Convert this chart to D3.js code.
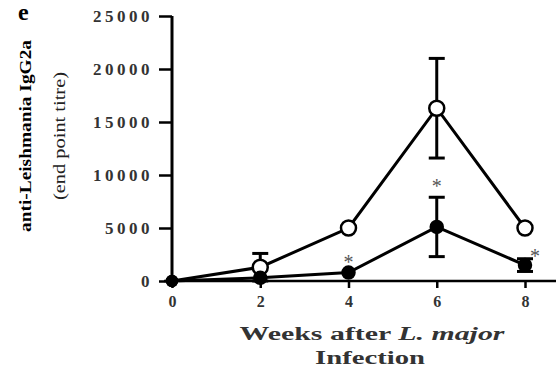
<!DOCTYPE html>
<html>
<head>
<meta charset="utf-8">
<script src="https://cdn.jsdelivr.net/npm/d3@7"></script>
<style>
body { margin: 0; background: #fff; }
svg { display: block; font-family: "Liberation Serif", "DejaVu Serif", serif; }
</style>
</head>
<body>
<div id="container"><svg></svg></div>
<script>
// weeks after infection
const WEEKS = [0, 2, 4, 6, 8];
// open circles (control)
const OPEN_MEAN = [0, 1300, 5000, 16300, 5000];
const OPEN_ERR  = [0, 1300, 0, 4700, 0];
// filled circles
const FILLED_MEAN = [0, 300, 800, 5100, 1500];
const FILLED_ERR  = [0, 0, 0, 2800, 600];
// significance marks (filled series)
const STARS = [4, 6, 8];
const Y_TICKS = [0, 5000, 10000, 15000, 20000, 25000];

const width = 556, height = 370;
let svg = d3.select("svg").attr("width", width).attr("height", height);

let x = d3.scaleLinear().domain([0, 8]).range([172, 525]);
let y = d3.scaleLinear().domain([0, 25000]).range([281, 16]);

// axes
let yAxis = svg.append("g")
	.attr("transform", "translate(172,0)")
	.call(d3.axisLeft(y).tickValues(Y_TICKS).tickSize(13).tickPadding(6).tickFormat(d3.format("d")));
yAxis.select(".domain").attr("stroke-width", 3).attr("d", `M0,${y(25000)}V${y(0)}`);
yAxis.selectAll(".tick line").attr("stroke-width", 2.5);
yAxis.selectAll("text").attr("font-size", 17).attr("font-weight", "bold")
	.attr("font-family", "Liberation Serif").attr("fill", "#333").attr("letter-spacing", 3.5);

let xAxis = svg.append("g")
	.attr("transform", "translate(0,281)")
	.call(d3.axisBottom(x).tickValues(WEEKS).tickSize(7).tickPadding(8).tickFormat(d3.format("d")));
xAxis.select(".domain").attr("stroke-width", 2.5).attr("d", `M164,0H556`);
xAxis.selectAll(".tick line").attr("stroke-width", 2.5);
xAxis.selectAll("text").attr("font-size", 16).attr("font-weight", "bold")
	.attr("font-family", "Liberation Serif").attr("fill", "#333");

let line = d3.line().x((d, i) => x(WEEKS[i])).y(d => y(d));

function drawSeries(mean, err, filled) {
	let g = svg.append("g");
	g.append("path").datum(mean).attr("d", line)
		.attr("fill", "none").attr("stroke", "#000").attr("stroke-width", 3);
	mean.forEach((m, i) => {
		if (!err[i]) return;
		let cx = x(WEEKS[i]);
		g.append("line").attr("x1", cx).attr("x2", cx)
			.attr("y1", y(m - err[i])).attr("y2", y(m + err[i]))
			.attr("stroke", "#000").attr("stroke-width", 3);
		[m - err[i], m + err[i]].forEach(v => {
			g.append("line").attr("x1", cx - 8).attr("x2", cx + 8)
				.attr("y1", y(v)).attr("y2", y(v))
				.attr("stroke", "#000").attr("stroke-width", 3);
		});
	});
	g.selectAll("circle").data(mean).enter().append("circle")
		.attr("cx", (d, i) => x(WEEKS[i])).attr("cy", d => y(d))
		.attr("r", (d, i) => i === 0 ? 5 : (filled ? 6 : 7.5))
		.attr("fill", filled ? "#000" : "#fff")
		.attr("stroke", "#000").attr("stroke-width", 2.5);
}

drawSeries(OPEN_MEAN, OPEN_ERR, false);
drawSeries(FILLED_MEAN, FILLED_ERR, true);

// asterisks
STARS.forEach(w => {
	let i = WEEKS.indexOf(w);
	let top = FILLED_MEAN[i] + FILLED_ERR[i];
	let sx = x(w) + (w === 8 ? 10 : 0);
	let sy = y(top) - (w === 8 ? 6 : 14);
	svg.append("text").attr("x", sx).attr("y", sy + 10)
		.attr("text-anchor", "middle").attr("font-size", 20).attr("fill", "#555")
		.text("*");
});

// panel letter
svg.append("text").attr("x", 18).attr("y", 20).attr("font-size", 24).attr("font-weight", "bold").text("e");

// y title
let yt = svg.append("g").attr("transform", "translate(0,136) rotate(-90)");
yt.append("text").attr("x", 0).attr("y", 31).attr("text-anchor", "middle")
	.attr("font-size", 16).attr("font-weight", "bold").attr("textLength", 192).attr("lengthAdjust", "spacingAndGlyphs")
	.text("anti-Leishmania IgG2a");
yt.append("text").attr("x", 0).attr("y", 65).attr("text-anchor", "middle")
	.attr("font-size", 16).attr("fill", "#222").attr("textLength", 128).attr("lengthAdjust", "spacingAndGlyphs")
	.text("(end point titre)");

// x title
svg.append("text").attr("x", 372).attr("y", 340).attr("text-anchor", "middle")
	.attr("font-size", 18).attr("font-weight", "bold").attr("fill", "#333")
	.attr("textLength", 265).attr("lengthAdjust", "spacingAndGlyphs")
	.html("Weeks after <tspan font-style='italic'>L. major</tspan>");
svg.append("text").attr("x", 370).attr("y", 364).attr("text-anchor", "middle")
	.attr("font-size", 18).attr("font-weight", "bold").attr("fill", "#333")
	.attr("textLength", 110).attr("lengthAdjust", "spacingAndGlyphs")
	.text("Infection");
</script>
</body>
</html>
